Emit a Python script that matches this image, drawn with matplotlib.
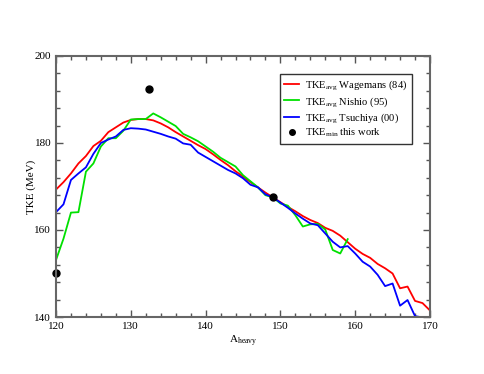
import matplotlib.pyplot as plt
import numpy as np

plt.rcParams['font.family'] = ['Liberation Serif', 'DejaVu Serif']
plt.rcParams['mathtext.fontset'] = 'custom'
plt.rcParams['mathtext.rm'] = 'Liberation Serif'
plt.rcParams['mathtext.it'] = 'Liberation Serif:italic'

# Wagemans (84)
a_wag = np.arange(120, 171)
tke_wag = [169.3, 171.0, 173.0, 175.3, 177.0, 179.3, 180.5, 182.5, 183.6, 184.7,
           185.3, 185.5, 185.5, 185.2, 184.5, 183.6, 182.5, 181.5, 180.5, 179.5,
           178.6, 177.4, 176.1, 174.9, 173.5, 172.3, 171.0, 169.8, 168.6, 167.5,
           166.4, 165.3, 164.3, 163.2, 162.3, 161.6, 160.5, 159.8, 158.7, 157.2,
           155.7, 154.5, 153.6, 152.2, 151.2, 150.0, 146.6, 147.0, 143.7, 143.2,
           141.5]

# Nishio (95)
a_nis = np.arange(120, 160)
tke_nis = [153.1, 158.0, 164.0, 164.1, 173.4, 175.3, 179.2, 181.1, 181.1, 182.8,
           185.4, 185.5, 185.5, 186.8, 185.9, 184.9, 183.9, 182.1, 181.3, 180.4,
           179.2, 178.0, 176.6, 175.6, 174.6, 172.6, 171.2, 169.8, 168.0, 167.5,
           166.1, 165.6, 163.4, 160.8, 161.3, 161.4, 160.1, 155.4, 154.6, 157.9]

# Tsuchiya (00)
a_tsu = np.arange(120, 170)
tke_tsu = [164.1, 165.9, 171.5, 173.0, 174.4, 177.5, 180.0, 180.8, 181.5, 183.0,
           183.4, 183.3, 183.1, 182.6, 182.1, 181.5, 181.0, 179.9, 179.6, 177.8,
           176.8, 175.8, 174.8, 173.8, 173.0, 171.9, 170.4, 169.8, 168.2, 167.5,
           166.3, 165.1, 163.8, 162.6, 161.5, 161.1, 159.2, 157.3, 156.0, 156.3,
           154.6, 152.7, 151.6, 149.7, 147.1, 147.7, 142.6, 143.9, 140.2, 139.9]

# this work
a_min = [120, 132.4, 149]
tke_min = [150.1, 192.3, 167.5]

fig = plt.figure(figsize=(4.84, 3.74), dpi=100)
ax = fig.add_axes([0.1157, 0.1524, 0.7727, 0.6979])

ax.plot(a_wag, tke_wag, color='#ff0000', lw=1.3,
        label=r'TKE$_{\mathrm{avg}}$ Wagemans (84)')
ax.plot(a_nis, tke_nis, color='#00e000', lw=1.3,
        label=r'TKE$_{\mathrm{avg}}$ Nishio (95)')
ax.plot(a_tsu, tke_tsu, color='#0000ff', lw=1.3,
        label=r'TKE$_{\mathrm{avg}}$ Tsuchiya (00)')
ax.plot(a_min, tke_min, 'o', color='black', ms=5, clip_on=False,
        label=r'TKE$_{\mathrm{min}}$ this work')

ax.set_xlim(120, 170)
ax.set_ylim(140, 200)
ax.set_xticks(np.arange(120, 171, 10))
ax.set_xticks(np.arange(120, 171, 2), minor=True)
ax.set_yticks(np.arange(140, 201, 20))
ax.set_yticks(np.arange(140, 201, 4), minor=True)
ax.tick_params(which='both', direction='in', top=True, right=True,
               color='#555555', labelsize=8)
ax.tick_params(which='major', length=5, width=1)
ax.tick_params(which='minor', length=3, width=1)
for s in ax.spines.values():
    s.set_color('#666666')
    s.set_linewidth(1.5)

ax.set_xlabel(r'A$_{\mathrm{heavy}}$', fontsize=8, labelpad=2)
ax.set_ylabel('TKE (MeV)', fontsize=8, labelpad=-1)

leg = ax.legend(loc='upper left', bbox_to_anchor=(0.599, 0.93), fontsize=7.6,
                fancybox=False, edgecolor='#333333', framealpha=1,
                handlelength=1.4, borderpad=0.4, labelspacing=0.2,
                handletextpad=0.6, markerscale=0.8, borderaxespad=0)
leg.get_frame().set_linewidth(1)

fig.savefig('out.png', dpi=100)
